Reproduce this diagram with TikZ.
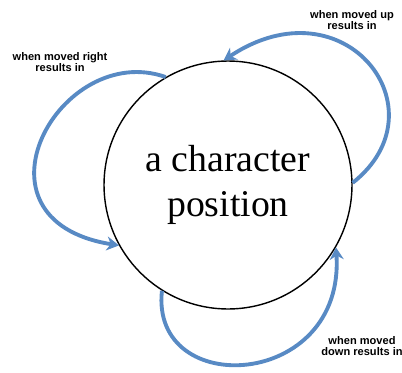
\documentclass[tikz,border=0pt]{standalone}
\usepackage{fontspec}
\setmainfont{Liberation Serif}
\newfontfamily\labelfont{Liberation Sans}
\definecolor{loopblue}{RGB}{88,138,196}
\usetikzlibrary{arrows.meta}
\tikzset{
    loop/.style={draw=loopblue, line width=2.2pt, -{Stealth[length=7pt,width=8pt]}},
    note/.style={align=center, inner sep=0pt, font=\labelfont\bfseries\fontsize{6.3}{6.6}\selectfont}
}
\begin{document}
\begin{tikzpicture}
    [x=0.02cm, y=-0.02cm]
    \useasboundingbox (0,0) rectangle (402,372);
    %the position
    \node[draw, circle, line width=0.8pt, minimum size=4.96cm, inner sep=0pt, align=center,
        font=\fontsize{21.5}{26}\selectfont] (pos) at (228,185) {a character\\position};
    %labels
    \node[note] (right) at (60,62) {when moved right\\results in};
    \node[note] (up) at (352,20) {when moved up\\results in};
    \node[note] (down) at (362,346) {when moved\\down results in};
    %loops
    \draw[loop] (pos.120) .. controls (60,40) and (-40,220) .. (pos.209);
    \draw[loop] (pos.1) .. controls (445,110) and (345,-20) .. (pos.92);
    \draw[loop] (pos.238) .. controls (150,400) and (345,390) .. (pos.330);
\end{tikzpicture}
\end{document}
